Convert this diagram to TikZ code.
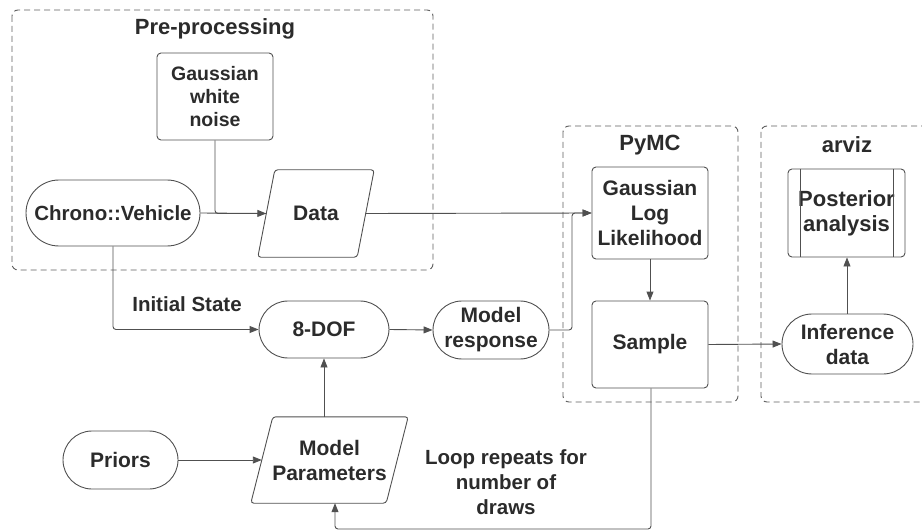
\documentclass[tikz,border=0pt]{standalone}
\usepackage{fontspec}
\setmainfont{Liberation Sans}
\usetikzlibrary{arrows.meta,calc}
\definecolor{txt}{HTML}{2B2B2B}
\definecolor{ln}{HTML}{505050}
\definecolor{dsh}{HTML}{5E5E5E}
\begin{document}
\begin{tikzpicture}[x=1pt,y=-1pt,
  box/.style={draw=ln, line width=0.9pt, rounded corners=4pt, align=center, text=txt,
    font=\bfseries\fontsize{21}{25}\selectfont, inner sep=0pt},
  ptext/.style={align=center, text=txt, font=\bfseries\fontsize{21}{25}\selectfont, inner sep=0pt},
  pshape/.style={draw=ln, line width=0.9pt, rounded corners=3pt},
  group/.style={draw=dsh, line width=0.9pt, dash pattern=on 6pt off 4pt, rounded corners=6pt},
  conn/.style={draw=ln, line width=0.9pt, rounded corners=3pt},
  arr/.style={conn, -{Triangle[length=9pt,width=7pt]}},
  grouptitle/.style={font=\bfseries\fontsize{22}{26}\selectfont, text=txt, inner sep=0pt},
  note/.style={align=center, text=txt, font=\bfseries\fontsize{20.5}{25}\selectfont, inner sep=0pt}
]
\useasboundingbox (0,0) rectangle (922,532);

% groups
\draw[group] (12,10) rectangle (433,270);
\node[grouptitle] (tpre) at (215,29) {Pre-processing};
\draw[group] (563,126) rectangle (738,402);
\node[grouptitle] (tpymc) at (650,145) {PyMC};
\draw[group] (761,126) rectangle (930,402);
\node[grouptitle] (tarviz) at (847,145) {arviz};

% nodes
\node[box, minimum width=116pt, minimum height=87pt, font=\bfseries\fontsize{19.5}{23}\selectfont] (noise) at (215,96.5) {Gaussian\\white\\noise};
\node[box, rounded corners=33pt, minimum width=174pt, minimum height=66pt, font=\bfseries\fontsize{20.5}{25}\selectfont] (chrono) at (113,213) {Chrono::Vehicle};
\node[ptext, minimum width=116pt, minimum height=87pt] (data) at (316,213.5) {Data};
\draw[pshape] ($(data.north west)+(17pt,0)$) -- (data.north east) -- ($(data.south east)+(-17pt,0)$) -- (data.south west) -- cycle;

\node[box, minimum width=116pt, minimum height=92pt] (gll) at (650,213) {Gaussian\\Log\\Likelihood};
\node[box, minimum width=116pt, minimum height=87pt] (sample) at (650,344.5) {Sample};

\node[box, minimum width=117pt, minimum height=88pt, font=\bfseries\fontsize{22}{25}\selectfont] (post) at (846.5,213) {Posterior\\analysis};
\draw[ln, line width=0.9pt] (800,169) -- (800,257);
\draw[ln, line width=0.9pt] (893,169) -- (893,257);
\node[box, rounded corners=30pt, minimum width=131pt, minimum height=60pt] (infer) at (847.5,344) {Inference\\data};

\node[box, rounded corners=29pt, minimum width=130pt, minimum height=57pt] (dof) at (324,329.5) {8-DOF};
\node[box, rounded corners=29pt, minimum width=116pt, minimum height=58pt] (resp) at (491,330) {Model\\response};

\node[box, rounded corners=29pt, minimum width=115pt, minimum height=58pt] (priors) at (120.5,460) {Priors};
\node[ptext, minimum width=157pt, minimum height=86pt] (mp) at (329.5,460) {Model\\Parameters};
\draw[pshape] ($(mp.north west)+(22pt,0)$) -- (mp.north east) -- ($(mp.south east)+(-22pt,0)$) -- (mp.south west) -- cycle;

\node[note] (loop) at (506,482) {Loop repeats for\\number of\\draws};
\node[note, anchor=center] (init) at (187,304) {Initial State};

% connectors
\coordinate (dataL) at ($(data.west)+(8.5pt,0)$);
\coordinate (dataR) at ($(data.east)+(-8.5pt,0)$);
\coordinate (join) at (572,213);
\coordinate (loopA) at (651,529);
\coordinate (loopB) at (335,529);
\coordinate (mpL) at ($(mp.west)+(11pt,0)$);

\draw[arr] (chrono.east) -- (dataL);
\draw[conn] (noise.south) |- (dataL);
\draw[arr] (dataR) -- (gll.west);
\draw[arr] (resp.east) -| (join) -- (gll.west);
\draw[arr] (gll.south) -- (sample.north);
\draw[arr] (sample.east) -- (infer.west);
\draw[arr] (infer.north -| 847,0) -- (post.south -| 847,0);
\draw[arr] (chrono.south) |- (dof.west);
\draw[arr] (dof.east) -- (resp.west);
\draw[arr] (mp.north -| dof.south) -- (dof.south);
\draw[arr] (priors.east) -- (mpL);
\draw[arr] (sample.south -| loopA) -- (loopA) -- (loopB) -- (loopB |- mp.south);
\end{tikzpicture}
\end{document}
